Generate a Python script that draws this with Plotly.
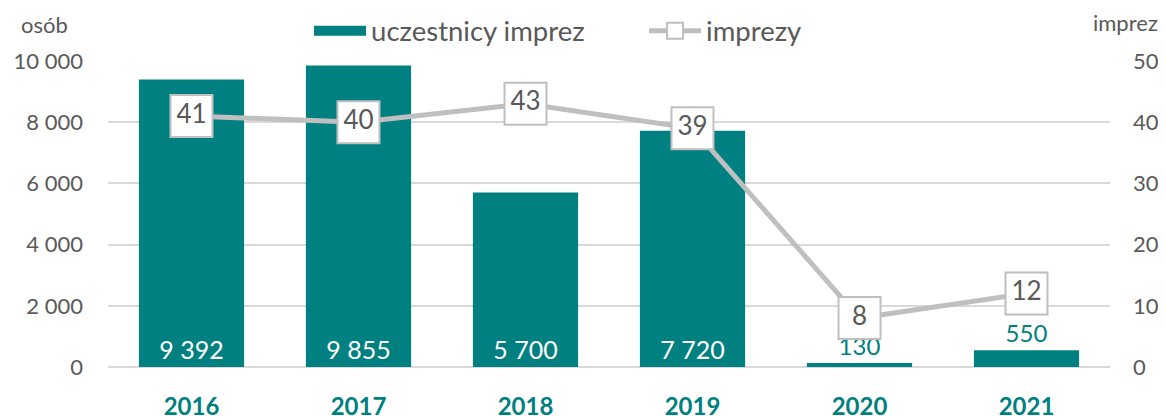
import plotly.graph_objects as go

lata = ["2016", "2017", "2018", "2019", "2020", "2021"]
uczestnicy = [9392, 9855, 5700, 7720, 130, 550]
imprezy = [41, 40, 43, 39, 8, 12]
etykiety_uczestnicy = ["9 392", "9 855", "5 700", "7 720", "130", "550"]
ticki_lewe = [0, 2000, 4000, 6000, 8000, 10000]
ticki_lewe_tekst = ["0", "2 000", "4 000", "6 000", "8 000", "10 000"]

TEAL = "#008080"
GRAY = "#BFBFBF"
TXT = "#595959"
FONT = "Lato"

# small bars get their label above, in teal
pozycje = ["inside" if v > 1000 else "outside" for v in uczestnicy]

fig = go.Figure()
fig.add_trace(go.Bar(
    x=lata, y=uczestnicy, name="uczestnicy imprez", showlegend=False,
    marker=dict(color=TEAL, line=dict(width=0)),
    text=etykiety_uczestnicy, textposition=pozycje,
    insidetextanchor="start", cliponaxis=False,
    outsidetextfont=dict(color=TEAL, size=24, family=FONT),
    insidetextfont=dict(color="white", size=25, family=FONT),
    width=0.63, hoverinfo="skip",
))
# legend swatch: wide teal rectangle like the original
fig.add_trace(go.Scatter(
    x=[None], y=[None], name="uczestnicy imprez", mode="lines",
    line=dict(color=TEAL, width=14),
))
fig.add_trace(go.Scatter(
    x=lata, y=imprezy, name="imprezy", yaxis="y2",
    mode="lines+markers+text",
    line=dict(color=GRAY, width=5),
    marker=dict(symbol="square", size=42, color="white",
                line=dict(color=GRAY, width=2)),
    text=[str(v) for v in imprezy], textposition="middle center",
    textfont=dict(color=TXT, size=26, family=FONT),
    cliponaxis=False,
))

# body has an 8px default margin, so the figure starts at (8, 8)
fig.update_layout(
    width=1150, height=416,
    margin=dict(l=100, r=48, t=53, b=57, autoexpand=False),
    plot_bgcolor="white", paper_bgcolor="white",
    font=dict(family=FONT, color=TXT, size=22),
    showlegend=True,
    legend=dict(orientation="h", x=0.535, xanchor="center",
                yref="container", y=0.945, yanchor="middle",
                font=dict(size=27.5, color=TXT),
                itemwidth=52, entrywidth=268, traceorder="normal"),
    xaxis=dict(showgrid=False, showline=False, ticks="",
               tickfont=dict(size=24, color=TEAL, family=FONT, weight="bold"),
               ticklabelstandoff=23),
    yaxis=dict(range=[0, 10000], tickvals=ticki_lewe, ticktext=ticki_lewe_tekst,
               showgrid=True, gridcolor="#D9D9D9", gridwidth=2,
               zeroline=True, zerolinecolor="#D9D9D9", zerolinewidth=2,
               showline=False, ticks="", ticklabelstandoff=24,
               tickfont=dict(size=22, color=TXT)),
    yaxis2=dict(range=[0, 50], dtick=10, overlaying="y", side="right",
                showgrid=False, zeroline=False, showline=False, ticks="",
                ticklabelstandoff=22, tickfont=dict(size=22, color=TXT)),
    annotations=[
        dict(text="osób", xref="paper", yref="paper", x=-0.063, y=1.118,
             xanchor="center", yanchor="middle", showarrow=False,
             font=dict(size=22, color=TXT)),
        dict(text="imprez", xref="paper", yref="paper", x=1.015, y=1.127,
             xanchor="center", yanchor="middle", showarrow=False,
             font=dict(size=22, color=TXT)),
    ],
)

fig.write_html("out.html")
